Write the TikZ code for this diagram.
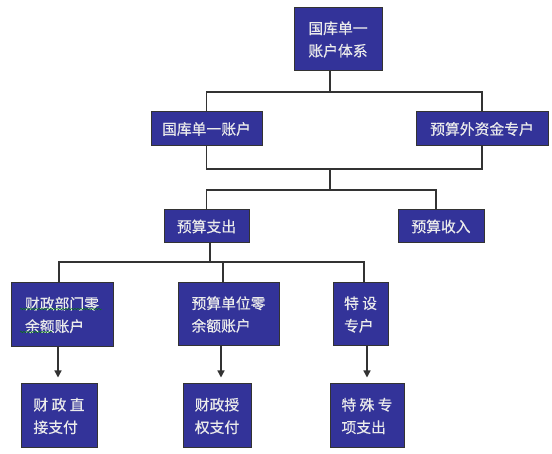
\documentclass[tikz,border=0pt]{standalone}
\usepackage{fontspec}
\newfontfamily\cjk{Noto Sans CJK SC}[FakeBold=0.4]
\usepackage{xcolor}
\usetikzlibrary{arrows.meta,decorations.pathmorphing}
\definecolor{boxblue}{HTML}{333399}

\begin{document}
\begin{tikzpicture}[
            x=1pt,   % 1px = 1pt
            y=-1pt,  % y軸は下向き
            box/.style={draw=black!80, line width=1pt, fill=boxblue, text=white!92!black,
                        font=\cjk\fontsize{14.8}{22.5}\selectfont, align=left, inner sep=0pt},
            link/.style={draw=black!80, line width=1.3pt},
            arr/.style={link, -{Triangle[width=7pt,length=7pt]}, shorten >=6pt}
        ]
            \useasboundingbox (0,0) rectangle (552,454);

            % 第一層
            \node[box, minimum width=88pt, minimum height=63pt] (top) at (338,39.5) {国库单一\\账户体系};

            % 第二層
            \node[box, minimum width=111pt, minimum height=34pt] (acc) at (206.5,129) {国库单一账户};
            \node[box, minimum width=132pt, minimum height=34pt] (ext) at (482,129) {预算外资金专户};

            % 第三層
            \node[box, minimum width=85pt, minimum height=33pt] (exp) at (206.5,226.5) {预算支出};
            \node[box, minimum width=86pt, minimum height=33pt] (inc) at (441,226.5) {预算收入};

            % 第四層
            \node[box, minimum width=102pt, minimum height=64pt] (fin) at (62,315) {财政部门零\\余额账户};
            \node[box, minimum width=101pt, minimum height=63pt] (unit) at (228.5,314.5) {预算单位零\\余额账户};
            \node[box, minimum width=55pt, minimum height=63pt] (spec) at (360.5,314.5) {特 设\\专户};

            % 第五層
            \node[box, minimum width=76pt, minimum height=64pt] (dir) at (59,416) {财 政 直\\接支付};
            \node[box, minimum width=68pt, minimum height=64pt] (auth) at (217,416) {财政授\\权支付};
            \node[box, minimum width=74pt, minimum height=64pt] (spx) at (367,416) {特 殊 专\\项支出};

            % 分岐点
            \coordinate (b1) at (330,92);
            \coordinate (b2) at (330,169);
            \coordinate (b3) at (330,190);
            \coordinate (b4) at (210,262);

            % 連結線
            \draw[link] (top.south -| b1) -- (b1);
            \draw[link] (acc.north) |- (b1) -| (ext.north);
            \draw[link] (acc.south) |- (b2) -| (ext.south);
            \draw[link] (b2) -- (b3);
            \draw[link] (exp.north) |- (b3) -| ([xshift=-5pt]inc.north);
            \draw[link] (exp.south -| b4) -- (b4);
            \draw[link] ([xshift=-3pt]fin.north) |- (b4) -| ([xshift=3.5pt]spec.north);
            \draw[link] ([xshift=-5.5pt]unit.north) -- ([xshift=-5.5pt]unit.north |- b4);

            % 矢印
            \draw[arr] ([xshift=-4pt]fin.south) -- ([xshift=-4pt]fin.south |- dir.north);
            \draw[arr] ([xshift=-7.5pt]unit.south) -- ([xshift=-7.5pt]unit.south |- auth.north);
            \draw[arr] ([xshift=6.5pt]spec.south) -- ([xshift=6.5pt]spec.south |- spx.north);

            % 波線
            \draw[green!50!black, decorate, decoration={snake, amplitude=0.8pt, segment length=3pt}] (20,309) -- (102,309);
            \draw[green!50!black, decorate, decoration={snake, amplitude=0.8pt, segment length=3pt}] (20,332) -- (52,332);
        \end{tikzpicture}
\end{document}
